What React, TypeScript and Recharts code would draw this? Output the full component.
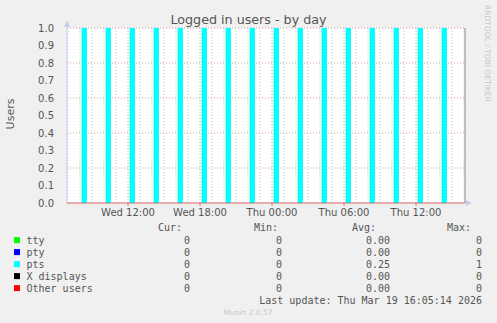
import { Area, AreaChart, CartesianGrid, ReferenceLine, XAxis, YAxis } from "recharts";

// hours counted from Wed 00:00
const tStart = 6.917;
const tEnd = 40.083;

// pts sessions: login / logout times (hours)
const ptsOn = [8.13, 10.13, 12.13, 14.13, 16.13, 18.13, 20.13, 22.13, 24.13, 26.13, 28.13, 30.13, 32.13, 34.13, 36.13, 38.13];
const ptsOff = [8.58, 10.58, 12.58, 14.58, 16.58, 18.58, 20.58, 22.58, 24.58, 26.58, 28.58, 30.58, 32.58, 34.58, 36.58, 38.58];

const majorTicks = [12, 18, 24, 30, 36];
const majorLabels = ["Wed 12:00", "Wed 18:00", "Thu 00:00", "Thu 06:00", "Thu 12:00"];
const minorTicks = [7, 8, 9, 10, 11, 13, 14, 15, 16, 17, 19, 20, 21, 22, 23, 25, 26, 27, 28, 29, 31, 32, 33, 34, 35, 37, 38, 39, 40];
const yTicks = [0, 0.1, 0.2, 0.3, 0.4, 0.5, 0.6, 0.7, 0.8, 0.9, 1.0];

const seriesNames = ["tty", "pty", "pts", "X displays", "Other users"];
const seriesColors = ["#00ff00", "#0000ff", "#00ffff", "#000000", "#ff0000"];
const curVals = ["0", "0", "0", "0", "0"];
const minVals = ["0", "0", "0", "0", "0"];
const avgVals = ["0.00", "0.00", "0.25", "0.00", "0.00"];
const maxVals = ["0", "0", "1", "0", "0"];

const rows: { t: number; pts: number }[] = [{ t: tStart, pts: 0 }];
ptsOn.forEach((on, i) => {
  rows.push({ t: on, pts: 1 });
  rows.push({ t: ptsOff[i], pts: 0 });
});
rows.push({ t: tEnd, pts: 0 });

const sans = "'DejaVu Sans', sans-serif";
const mono = "'DejaVu Sans Mono', monospace";
const tickStyle = { fill: "#555", fontSize: 10, fontFamily: sans };

// map grid hours to pixels using the x axis scale (or the plot offset if the scale isn't callable)
const gridAt = (hours: number[]) => (props: any) => {
  const scale = props?.xAxis?.scale;
  const off = props?.offset;
  return hours.map((h) => {
    if (typeof scale === "function") return scale(h);
    if (scale && typeof scale.map === "function") return scale.map(h);
    return off.left + ((h - tStart) / (tEnd - tStart)) * off.width;
  });
};

export default function App() {
  return (
    <div style={{ position: "absolute", left: 0, top: 0, width: 497, height: 323, background: "#f0f0f0" }}>
      <AreaChart
        width={497}
        height={323}
        data={rows}
        margin={{ top: 28, right: 32, left: 0, bottom: 100 }}
      >
        <CartesianGrid
          horizontal={false}
          fill="#ffffff"
          stroke="#c4c4c4"
          strokeDasharray="1 2"
          verticalCoordinatesGenerator={gridAt(minorTicks)}
        />
        <CartesianGrid
          stroke="#e09a9a"
          strokeDasharray="1 2"
          verticalCoordinatesGenerator={gridAt(majorTicks)}
        />
        <XAxis
          dataKey="t"
          type="number"
          domain={[tStart, tEnd]}
          ticks={majorTicks}
          tickFormatter={(v: number) => majorLabels[majorTicks.indexOf(v)]}
          allowDataOverflow
          height={20}
          tickSize={3}
          tickMargin={3}
          axisLine={{ stroke: "#d87070" }}
          tickLine={{ stroke: "#d87070" }}
          tick={tickStyle}
        />
        <YAxis
          domain={[0, 1]}
          ticks={yTicks}
          width={67}
          tickFormatter={(v: number) => v.toFixed(1)}
          tickLine={false}
          tickMargin={7}
          axisLine={{ stroke: "#c8ccf0" }}
          tick={tickStyle}
        />
        <Area
          type="stepAfter"
          dataKey="pts"
          stroke="none"
          fill="#00ffff"
          fillOpacity={1}
          isAnimationActive={false}
        />
        <ReferenceLine x={tEnd} stroke="#888" ifOverflow="visible" />
      </AreaChart>
      <svg
        width={497}
        height={323}
        style={{ position: "absolute", left: 0, top: 0, pointerEvents: "none" }}
      >
        <polygon points="67,20 64,27 70,27" fill="#c8ccf0" />
        <polygon points="472,203 466,200 466,206" fill="#c8ccf0" />
        <text x={248.5} y={24} textAnchor="middle" fontSize={12.7} fontFamily={sans} fill="#555">
          Logged in users - by day
        </text>
        <text transform="translate(14,114) rotate(-90)" textAnchor="middle" fontSize={11} fontFamily={sans} fill="#555">
          Users
        </text>
        <text transform="translate(484.5,5) rotate(90)" fontSize={7.5} fontFamily={sans} fill="#c8c8c8">
          RRDTOOL / TOBI OETIKER
        </text>
        <g fontFamily={mono} fontSize={10} fill="#555" style={{ whiteSpace: "pre" }}>
          <text x={158} y={230.6}>Cur:</text>
          <text x={254} y={230.6}>Min:</text>
          <text x={352} y={230.6}>Avg:</text>
          <text x={447} y={230.6}>Max:</text>
          {seriesNames.map((name, i) => {
            const y = 243.6 + i * 12;
            return (
              <g key={name}>
                <rect x={14} y={y - 6.5} width={6} height={6} fill={seriesColors[i]} />
                <text x={26.5} y={y}>{name}</text>
                <text x={190} y={y} textAnchor="end">{curVals[i]}</text>
                <text x={282} y={y} textAnchor="end">{minVals[i]}</text>
                <text x={390} y={y} textAnchor="end">{avgVals[i]}</text>
                <text x={482} y={y} textAnchor="end">{maxVals[i]}</text>
              </g>
            );
          })}
          <text x={482} y={303.6} textAnchor="end">Last update: Thu Mar 19 16:05:14 2026</text>
        </g>
        <text x={248} y={315} textAnchor="middle" fontSize={7.5} fontFamily={sans} fill="#c8c8c8">
          Munin 2.0.57
        </text>
      </svg>
    </div>
  );
}
